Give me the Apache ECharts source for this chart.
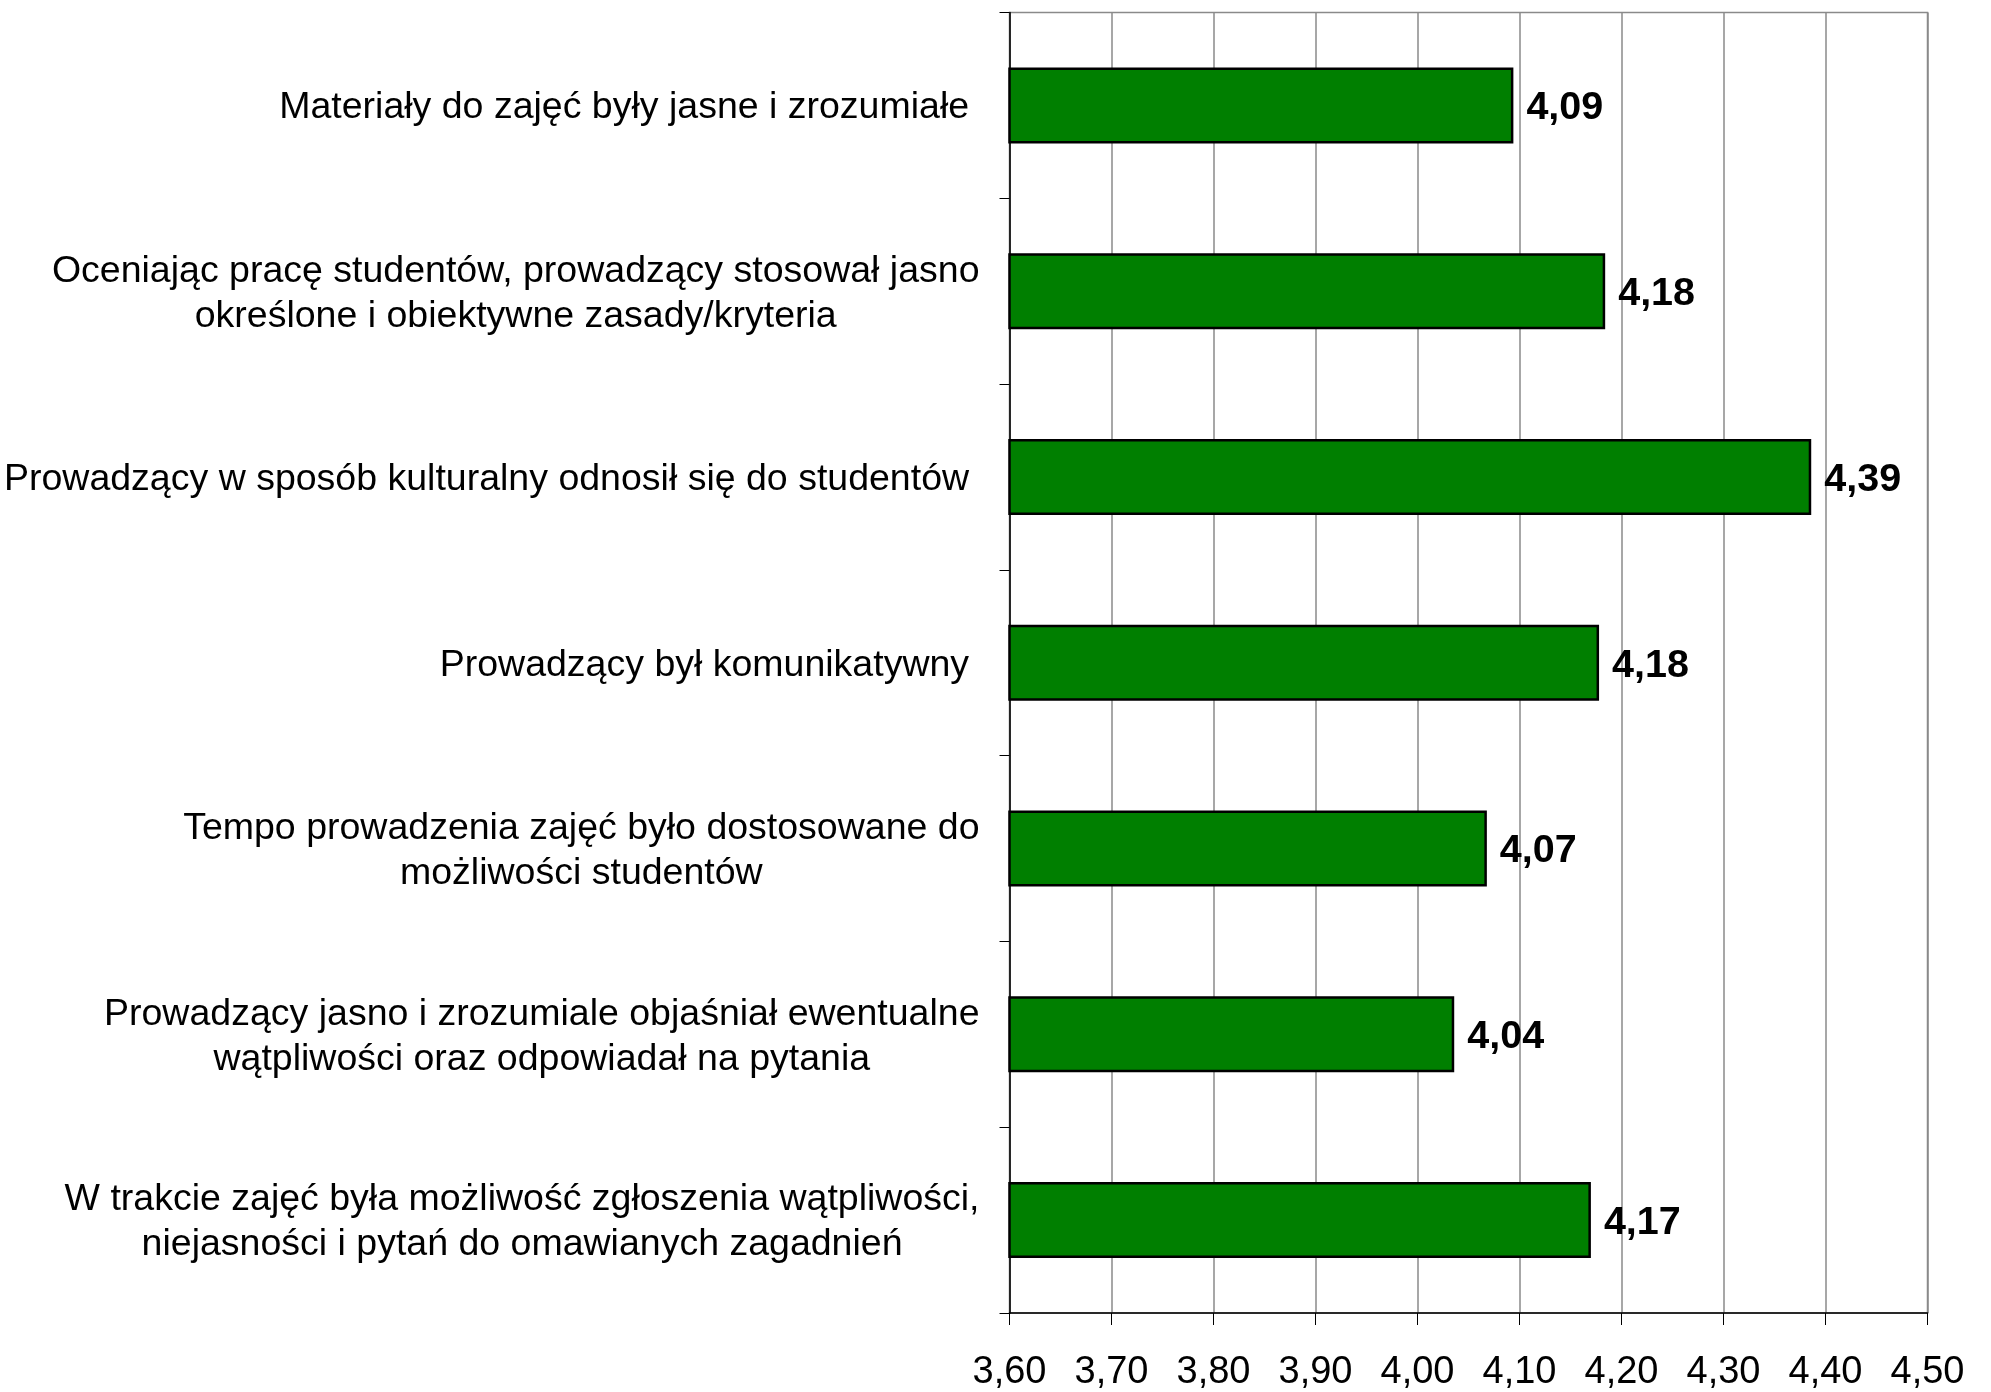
<!DOCTYPE html>
<html>
<head>
<meta charset="utf-8">
<script src="https://cdn.jsdelivr.net/npm/echarts@6/dist/echarts.min.js"></script>
<style>
  html, body { margin: 0; padding: 0; background: #ffffff; }
  #chart { width: 1991px; height: 1392px; }
</style>
</head>
<body>
<div id="chart"></div>
<script>
var categories = [
  'Materiały do zajęć były jasne i zrozumiałe ',
  'Oceniając pracę studentów, prowadzący stosował jasno\nokreślone i obiektywne zasady/kryteria',
  'Prowadzący w sposób kulturalny odnosił się do studentów ',
  'Prowadzący był komunikatywny ',
  'Tempo prowadzenia zajęć było dostosowane do\nmożliwości studentów',
  'Prowadzący jasno i zrozumiale objaśniał ewentualne\nwątpliwości oraz odpowiadał na pytania',
  'W trakcie zajęć była możliwość zgłoszenia wątpliwości,\nniejasności i pytań do omawianych zagadnień'
];
var values = [4.094, 4.184, 4.386, 4.178, 4.068, 4.036, 4.170];
var axisMin = 3.6;
var axisMax = 4.5;
var axisStep = 0.1;

function fmt(v) { return v.toFixed(2).replace('.', ','); }

var FONT = "'Liberation Sans', Arial, sans-serif";
var chart = echarts.init(document.getElementById('chart'), null, { renderer: 'canvas' });
chart.setOption({
  backgroundColor: '#ffffff',
  animation: false,
  grid: {
    left: 1009.5, right: 63.5, top: 12.5, bottom: 78,
    show: true, borderColor: '#8a8a8a', borderWidth: 1.5, backgroundColor: 'transparent'
  },
  xAxis: {
    type: 'value',
    min: axisMin, max: axisMax, interval: axisStep,
    axisLine: { show: true, onZero: false, lineStyle: { color: '#000000', width: 1.5 } },
    axisTick: { show: true, length: 12, lineStyle: { color: '#000000', width: 1 } },
    splitLine: { show: true, lineStyle: { color: '#8a8a8a', width: 1.5 } },
    axisLabel: {
      margin: 41, fontSize: 38, color: '#000000', fontFamily: FONT,
      formatter: function (v) { return fmt(v); }
    }
  },
  yAxis: {
    type: 'category',
    inverse: true,
    data: categories,
    axisLine: { show: true, lineStyle: { color: '#000000', width: 1.5 } },
    axisTick: { show: true, length: 10, lineStyle: { color: '#000000', width: 1 } },
    splitLine: { show: false },
    axisLabel: {
      margin: 30, color: '#000000', fontFamily: FONT, fontSize: 37.5, lineHeight: 45,
      padding: [5, 0, 0, 0],
      formatter: function (v) {
        return v.split('\n').map(function (s) { return '{c|' + s + '}'; }).join('\n');
      },
      rich: {
        c: { fontSize: 37.5, lineHeight: 45, align: 'center', color: '#000000', fontFamily: FONT }
      }
    }
  },
  series: [{
    type: 'bar',
    data: values,
    barWidth: 76,
    itemStyle: { color: '#007f00', borderColor: '#000000', borderWidth: 2.5 },
    label: {
      show: true, position: 'right', distance: 13, offset: [0, 3],
      fontSize: 39.5, fontWeight: 'bold', color: '#000000', fontFamily: FONT,
      formatter: function (p) { return fmt(p.value); }
    }
  }]
});
</script>
</body>
</html>
